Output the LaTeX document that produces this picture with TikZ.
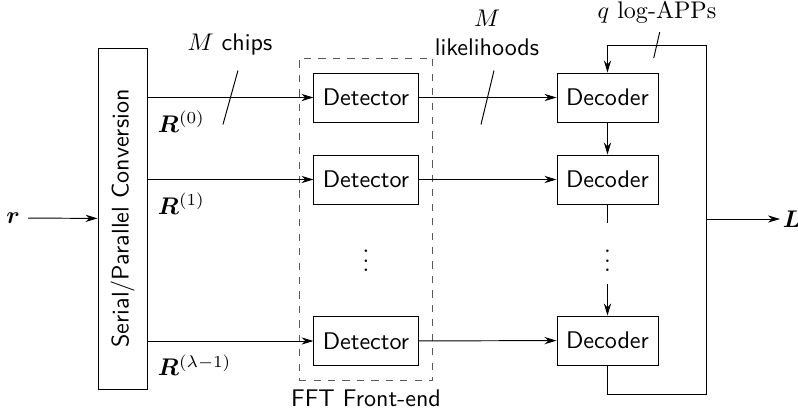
\documentclass[tikz,border=0pt]{standalone}
\usepackage{amsmath}
\usepackage{bm}
\usetikzlibrary{arrows.meta,fit}

\begin{document}
\begin{tikzpicture}[
    x=0.0146cm,y=-0.0146cm,
    >={Stealth[length=5pt,width=3pt]},
    txt/.style={font={\sffamily}},
    block/.style={draw,txt,inner sep=0pt},
    detector/.style={block,minimum width=1.52cm,minimum height=0.715cm},
    decoder/.style={block,minimum width=1.475cm,minimum height=0.715cm},
    dotsnode/.style={inner sep=5pt},
    frontend/.style={draw,dashed,black!65,inner sep=0.21cm},
    ]
    \useasboundingbox (0,0) rectangle (798,414);
    % Serial/parallel conversion
    \node[block,minimum width=0.715cm,minimum height=4.98cm] (sp) at (122.5,218.5) {};
    \node[txt,rotate=90] at (sp) {Serial/Parallel Conversion};
    \node (r) at (13,218) {$\bm{r}$};
    \draw[->] (r) -- (sp);
    % Detectors
    \node[detector] (det0) at (366,97.5) {Detector};
    \node[detector] (det1) at (366,179.5) {Detector};
    \node[dotsnode] (detdots) at (366,253.5) {$\vdots$};
    \node[detector] (det2) at (366,341) {Detector};
    \node[frontend,fit=(det0)(det2)] (fe) {};
    \node[txt,below] at (fe.south) {FFT Front-end};
    % Decoders
    \node[decoder] (dec0) at (607.5,97.5) {Decoder};
    \node[decoder] (dec1) at (607.5,179.5) {Decoder};
    \node[dotsnode] (decdots) at (607.5,253.5) {$\vdots$};
    \node[decoder] (dec2) at (607.5,340.5) {Decoder};
    \draw[->] (dec0) -- (dec1);
    \draw (dec1) -- (decdots);
    \draw[->] (decdots) -- (dec2);
    % Branches
    \foreach \i/\sup in {0/0,1/1,2/\lambda-1}{
        \draw[->] (sp.east |- det\i) -- (det\i);
        \path (sp.east |- det\i) ++(2,5)
            node[anchor=north west] {$\bm{R}^{(\sup)}$};
        \draw[->] (det\i) -- (dec\i);
    }
    % Bus widths
    \path (sp.east |- det0) -- (det0) coordinate[pos=.5] (chips);
    \draw ([shift={(7.5,-27)}]chips) -- ([shift={(-7.5,27)}]chips);
    \node[txt] at (230,44) {$M$ chips};
    \path (det0) -- (dec0) coordinate[pos=.5] (lik);
    \draw ([shift={(6.5,-27)}]lik) -- ([shift={(-6.5,27)}]lik);
    \node[txt,align=center] at (487,33) {$M$\\likelihoods};
    % Feedback of the log-APPs
    \coordinate (fbtop) at (706,45);
    \coordinate (fbbot) at (706,394);
    \coordinate (fbout) at (706,219);
    \draw[->] (dec2.south) |- (fbbot) -- (fbtop) -| (dec0.north);
    \path (fbtop) -- (dec0.north |- fbtop) coordinate[pos=.5] (app);
    \draw ([shift={(3,-13)}]app) -- ([shift={(-3,13)}]app);
    \node at (657,12) {$q$ log-APPs};
    % Output
    \node[inner sep=1pt] (L) at (792,219) {$\bm{L}$};
    \draw[->] (fbout) -- (L);
\end{tikzpicture}
\end{document}
